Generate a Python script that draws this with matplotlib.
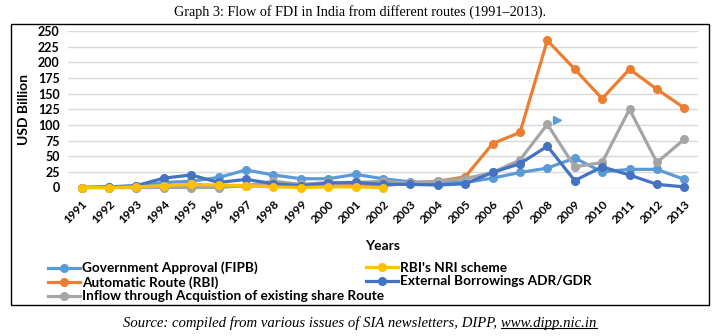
import numpy as np
import matplotlib
matplotlib.use('Agg')
import matplotlib.pyplot as plt
from matplotlib.patches import Rectangle
from matplotlib.lines import Line2D

YEARS = list(range(1991, 2014))

GOV_APPROVAL = [0, 1, 2, 8, 10, 16, 28, 20, 14, 14, 21, 14, 9, 8, 8, 15, 24, 31, 47, 25, 29, 29, 13]
NRI_SCHEME = [0, 0, 1, 3, 5, 4, 3, 1, 0, 1, 1, 0]
AUTOMATIC = [0, 0, 0, 1, 2, 3, 2, 3, 2, 2, 3, 3, 7, 10, 17, 70, 88, 235, 189, 142, 189, 157, 127]
EXT_BORROW = [0, 1, 3, 15, 20, 8, 13, 6, 3, 7, 8, 5, 5, 4, 6, 24, 38, 66, 11, 33, 20, 5, 1]
ACQUISITION = [0, 0, 0, 0, 0, 0, 3, 10, 5, 8, 8, 10, 7, 10, 14, 24, 44, 101, 33, 40, 125, 40, 77]

# stray marker in the original picture
STRAY_YEAR = 2008.35
STRAY_VALUE = 108

LABELS = ['Government Approval (FIPB)', "RBI's NRI scheme", 'Automatic Route (RBI)',
          'External Borrowings ADR/GDR', 'Inflow through Acquistion of existing share Route']
COLORS = ['#5B9BD5', '#FFC000', '#ED7D31', '#4472C4', '#A5A5A5']

TITLE = 'Graph 3: Flow of FDI in India from different routes (1991\u20132013).'
SOURCE_TXT = 'Source: compiled from various issues of SIA newsletters, DIPP, '
SOURCE_URL = 'www.dipp.nic.in'

FONT = 'Lato'
W, H = 719, 336

fig = plt.figure(figsize=(W / 100, H / 100), dpi=100)
ax = fig.add_axes([68 / W, 1 - 187.5 / H, 630 / W, 156.5 / H])

series = [GOV_APPROVAL, NRI_SCHEME, AUTOMATIC, EXT_BORROW, ACQUISITION]
zorders = [3, 6, 4, 5, 4.5]
handles = []
for vals, lab, col, z in zip(series, LABELS, COLORS, zorders):
    h, = ax.plot(YEARS[:len(vals)], vals, color=col, lw=2.3, marker='o', ms=5.5,
                 label=lab, zorder=z, clip_on=False)
    handles.append(h)
ax.plot([STRAY_YEAR], [STRAY_VALUE], marker='>', ms=6, color=COLORS[0], ls='none', zorder=6)

ax.set_xlim(1990.5, 2013.5)
ax.set_ylim(0, 250)
ax.set_yticks(np.arange(0, 251, 25))
ax.set_xticks(YEARS)
ax.grid(axis='y', color='#d9d9d9', lw=1)
ax.set_axisbelow(True)
for s in ax.spines.values():
    s.set_visible(False)
ax.tick_params(length=0)
ax.tick_params(axis='y', pad=6)
for t in ax.get_yticklabels():
    t.set_fontfamily(FONT)
    t.set_fontweight('bold')
    t.set_fontsize(9)
ax.set_xticklabels([str(y) for y in YEARS], rotation=45, ha='right', va='top',
                   rotation_mode='anchor', fontfamily=FONT, fontweight='bold', fontsize=8.5)
ax.tick_params(axis='x', pad=8)
ax.set_xlabel('Years', fontfamily=FONT, fontweight='bold', fontsize=10, labelpad=10)
ax.set_ylabel('USD Billion', fontfamily=FONT, fontweight='bold', fontsize=10, labelpad=6)

# legend in two overlapping columns, like the original
leg_kw = dict(loc='upper left', frameon=False, handlelength=2.4, handletextpad=0.1,
              labelspacing=0.12, borderpad=0,
              prop={'family': FONT, 'weight': 'bold', 'size': 9.8})
col1 = [0, 2, 4]
col2 = [1, 3]
leg1 = fig.legend([handles[i] for i in col1], [LABELS[i] for i in col1],
                  bbox_to_anchor=(41 / W, 1 - 255 / H), **leg_kw)
leg2 = fig.legend([handles[i] for i in col2], [LABELS[i] for i in col2],
                  bbox_to_anchor=(359 / W, 1 - 255 / H), **leg_kw)

# outer frame
fig.patches.append(Rectangle((11 / W, 1 - 305 / H), 698 / W, 281 / H, transform=fig.transFigure,
                             fill=False, edgecolor='black', lw=1))

fig.text(0.5, 1 - 12 / H, TITLE, ha='center', va='center', family='Liberation Serif', fontsize=10.2)

src = fig.text(360 / W, 1 - 323 / H, SOURCE_TXT + SOURCE_URL, ha='center', va='center',
               family='Liberation Serif', style='italic', fontsize=10.6)
fig.canvas.draw()
r = fig.canvas.get_renderer()
full = src.get_window_extent(r)
tmp = fig.text(0, 0, SOURCE_URL, family='Liberation Serif', style='italic', fontsize=10.6)
uw = tmp.get_window_extent(r).width
tmp.remove()
x1 = full.x1 / W
x0 = (full.x1 - uw) / W
yline = (full.y0 + 1.5) / H
fig.lines.append(Line2D([x0, x1], [yline, yline], transform=fig.transFigure, color='black', lw=0.8))

fig.savefig('out.png', dpi=100)
